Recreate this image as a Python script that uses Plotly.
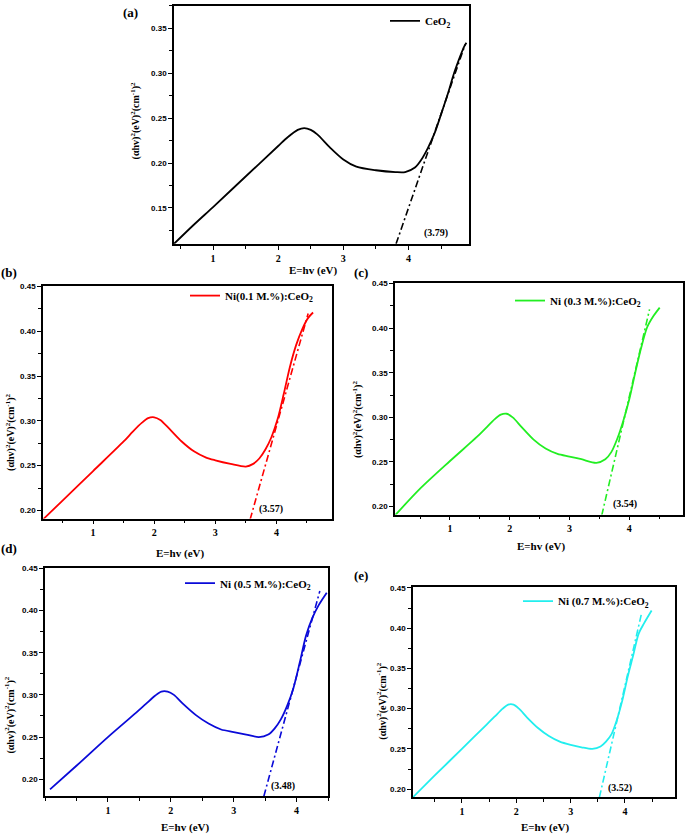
import plotly.graph_objects as go

# ---------------- data ----------------
# (a) CeO2
a_x = [0.40, 0.70, 1.00, 1.50, 2.00, 2.15, 2.30, 2.40, 2.50, 2.60, 2.80, 3.00, 3.20, 3.50, 3.80,
       3.95, 4.10, 4.20, 4.30, 4.40, 4.50, 4.60, 4.70, 4.80, 4.85, 4.89]
a_y = [0.110, 0.131, 0.151, 0.185, 0.219, 0.229, 0.237, 0.239, 0.237, 0.232, 0.217, 0.204, 0.196,
       0.192, 0.190, 0.190, 0.195, 0.204, 0.217, 0.233, 0.254, 0.276, 0.300, 0.320, 0.329, 0.334]
a_fit_x = [3.81, 4.87]
a_fit_y = [0.110, 0.332]

# (b) Ni(0.1 M.%):CeO2
b_x = [0.18, 0.50, 1.00, 1.50, 1.65, 1.80, 1.90, 2.00, 2.10, 2.25, 2.45, 2.65, 2.85, 3.00, 3.25,
       3.50, 3.62, 3.72, 3.82, 3.92, 4.02, 4.12, 4.22, 4.32, 4.42, 4.52, 4.60]
b_y = [0.190, 0.211, 0.244, 0.277, 0.288, 0.298, 0.303, 0.304, 0.301, 0.291, 0.277, 0.266, 0.259,
       0.256, 0.252, 0.249, 0.252, 0.258, 0.268, 0.282, 0.302, 0.330, 0.360, 0.384, 0.402, 0.415, 0.421]
b_fit_x = [3.57, 4.52]
b_fit_y = [0.190, 0.420]

# (c) Ni (0.3 M.%):CeO2
c_x = [0.08, 0.50, 1.00, 1.45, 1.60, 1.75, 1.85, 1.95, 2.05, 2.20, 2.40, 2.60, 2.80, 3.00, 3.20,
       3.45, 3.60, 3.70, 3.80, 3.90, 4.00, 4.10, 4.20, 4.30, 4.40, 4.51]
c_y = [0.190, 0.220, 0.251, 0.278, 0.288, 0.298, 0.303, 0.304, 0.300, 0.289, 0.275, 0.265, 0.259,
       0.256, 0.253, 0.249, 0.253, 0.261, 0.276, 0.296, 0.320, 0.350, 0.378, 0.401, 0.413, 0.423]
c_fit_x = [3.54, 4.34]
c_fit_y = [0.190, 0.421]

# (d) Ni (0.5 M.%):CeO2
d_x = [0.08, 0.50, 1.00, 1.45, 1.60, 1.75, 1.85, 1.95, 2.05, 2.20, 2.40, 2.60, 2.80, 3.00, 3.20,
       3.40, 3.55, 3.65, 3.75, 3.85, 3.95, 4.05, 4.15, 4.25, 4.35, 4.48]
d_y = [0.188, 0.216, 0.250, 0.279, 0.289, 0.299, 0.304, 0.304, 0.300, 0.289, 0.276, 0.266, 0.259,
       0.256, 0.253, 0.250, 0.253, 0.260, 0.271, 0.287, 0.308, 0.338, 0.370, 0.391, 0.406, 0.421]
d_fit_x = [3.48, 4.37]
d_fit_y = [0.180, 0.423]

# (e) Ni (0.7 M.%):CeO2
e_x = [0.10, 0.50, 1.00, 1.45, 1.60, 1.75, 1.85, 1.95, 2.05, 2.20, 2.40, 2.60, 2.80, 3.00, 3.20,
       3.40, 3.55, 3.65, 3.75, 3.85, 3.95, 4.05, 4.15, 4.25, 4.35, 4.49]
e_y = [0.190, 0.217, 0.250, 0.280, 0.290, 0.300, 0.305, 0.305, 0.300, 0.289, 0.276, 0.266, 0.259,
       0.255, 0.252, 0.250, 0.253, 0.259, 0.268, 0.286, 0.310, 0.340, 0.366, 0.393, 0.406, 0.422]
e_fit_x = [3.53, 4.31]
e_fit_y = [0.190, 0.420]

names = ["CeO<sub>2</sub>", "Ni(0.1 M.%):CeO<sub>2</sub>", "Ni (0.3 M.%):CeO<sub>2</sub>",
         "Ni (0.5 M.%):CeO<sub>2</sub>", "Ni (0.7 M.%):CeO<sub>2</sub>"]
gaps = ["(3.79)", "(3.57)", "(3.54)", "(3.48)", "(3.52)"]
panel_tags = ["(a)", "(b)", "(c)", "(d)", "(e)"]
x_ticks = [1, 2, 3, 4]
y_ticks_a = [0.15, 0.20, 0.25, 0.30, 0.35]
y_ticks_bcde = [0.20, 0.25, 0.30, 0.35, 0.40, 0.45]

# ---------------- layout helpers ----------------
W, H = 685, 834
def px(v):
    return v / W
def py(v):
    return 1 - v / H

colors = ["#000000", "#ff0000", "#22ee22", "#0a0ad8", "#22eeee"]
series = [(a_x, a_y, a_fit_x, a_fit_y), (b_x, b_y, b_fit_x, b_fit_y), (c_x, c_y, c_fit_x, c_fit_y),
          (d_x, d_y, d_fit_x, d_fit_y), (e_x, e_y, e_fit_x, e_fit_y)]

# plot boxes in pixels: left, right, top, bottom
boxes = [(174, 469, 2, 241), (43, 332, 283, 517), (395, 683, 280, 513), (45, 328, 567, 796),
         (413, 675, 586, 797)]
xranges = [[0.40, 4.93], [0.18, 4.91], [0.08, 4.90], [0.0, 4.5], [0.10, 4.92]]
yranges = [[0.11, 0.375], [0.191, 0.451], [0.191, 0.451], [0.18, 0.45], [0.19, 0.451]]
gap_pos = [(4.43, 0.122), (3.91, 0.202), (3.93, 0.203), (3.78, 0.192), (3.90, 0.2015)]
legend_pos = [(425, 17), (225, 293), (550, 298), (220, 582), (558, 600)]
tag_pos = [(130, 9), (9, 270), (361, 270), (9, 547), (361, 574)]
xtitle_pos = [(313, 268), (180, 552), (541, 545), (185, 827), (545, 827)]
ytitle_pos = [(135, 118), (11, 431), (358, 418), (10, 715), (382, 701)]

serif = "Liberation Serif"
sans = "Liberation Sans"

fig = go.Figure()
annotations = []
layout = {}
for i, (xs, ys, fx, fy) in enumerate(series):
    n = "" if i == 0 else str(i + 1)
    leg = "legend" if i == 0 else "legend" + str(i + 1)
    fig.add_trace(go.Scatter(x=xs, y=ys, mode="lines", name=names[i],
                             line=dict(color=colors[i], width=1.8, shape="spline", smoothing=0.8),
                             xaxis="x" + n, yaxis="y" + n, legend=leg))
    fig.add_trace(go.Scatter(x=fx, y=fy, mode="lines", showlegend=False,
                             line=dict(color=colors[i], width=1.6, dash="7px,3px,2px,3px"),
                             xaxis="x" + n, yaxis="y" + n))
    L, R, T, B = boxes[i]
    common = dict(showline=True, mirror=True, linecolor="black", linewidth=1.5,
                  ticks="outside", ticklen=4, tickwidth=1.2, tickcolor="black",
                  showgrid=False, zeroline=False)
    layout["xaxis" + n] = dict(domain=[px(L), px(R)], range=xranges[i], anchor="y" + n,
                               tickvals=x_ticks,
                               tickfont=dict(family=serif, size=10, color="black", weight="bold"),
                               minor=dict(dtick=0.5, tick0=0, ticks="outside", ticklen=3,
                                          tickcolor="black", tickwidth=1),
                               **common)
    layout["yaxis" + n] = dict(domain=[py(B), py(T)], range=yranges[i], anchor="x" + n,
                               tickvals=y_ticks_a if i == 0 else y_ticks_bcde, tickformat=".2f",
                               tickfont=dict(family=sans, size=8, color="black", weight="bold"),
                               minor=dict(dtick=0.025, tick0=0, ticks="outside", ticklen=3,
                                          tickcolor="black", tickwidth=1),
                               **common)
    lx, ly = legend_pos[i]
    layout[leg] = dict(x=px(lx - 40), y=py(ly), xanchor="left", yanchor="middle",
                       bgcolor="rgba(0,0,0,0)", borderwidth=0, itemwidth=30,
                       font=dict(family=serif, size=11, color="black", weight="bold"))
    gx, gy = gap_pos[i]
    annotations.append(dict(x=gx, y=gy, xref="x" + n, yref="y" + n, text=gaps[i], showarrow=False,
                            font=dict(family=serif, size=10, color="black", weight="bold")))
    tx, ty = tag_pos[i]
    annotations.append(dict(x=px(tx), y=py(ty), xref="paper", yref="paper", text=panel_tags[i],
                            showarrow=False, xanchor="center", yanchor="middle",
                            font=dict(family=serif, size=13, color="black", weight="bold")))
    xtx, xty = xtitle_pos[i]
    annotations.append(dict(x=px(xtx), y=py(xty), xref="paper", yref="paper", text="E=hv (eV)",
                            showarrow=False, xanchor="center", yanchor="middle",
                            font=dict(family=serif, size=11, color="black", weight="bold")))
    ytx, yty = ytitle_pos[i]
    annotations.append(dict(x=px(ytx), y=py(yty), xref="paper", yref="paper",
                            text="(αhv)<sup>2</sup>(eV)<sup>2</sup>(cm<sup>-1</sup>)<sup>2</sup>",
                            textangle=-90, showarrow=False, xanchor="center", yanchor="middle",
                            font=dict(family=serif, size=10, color="black", weight="bold")))

fig.update_layout(width=W, height=H, margin=dict(l=0, r=0, t=0, b=0),
                  paper_bgcolor="white", plot_bgcolor="white",
                  annotations=annotations, **layout)
fig.write_html("out.html", config={"displayModeBar": False},
               post_script="document.body.style.margin='0';document.body.style.padding='0';"
                           "document.body.style.overflow='hidden';")
